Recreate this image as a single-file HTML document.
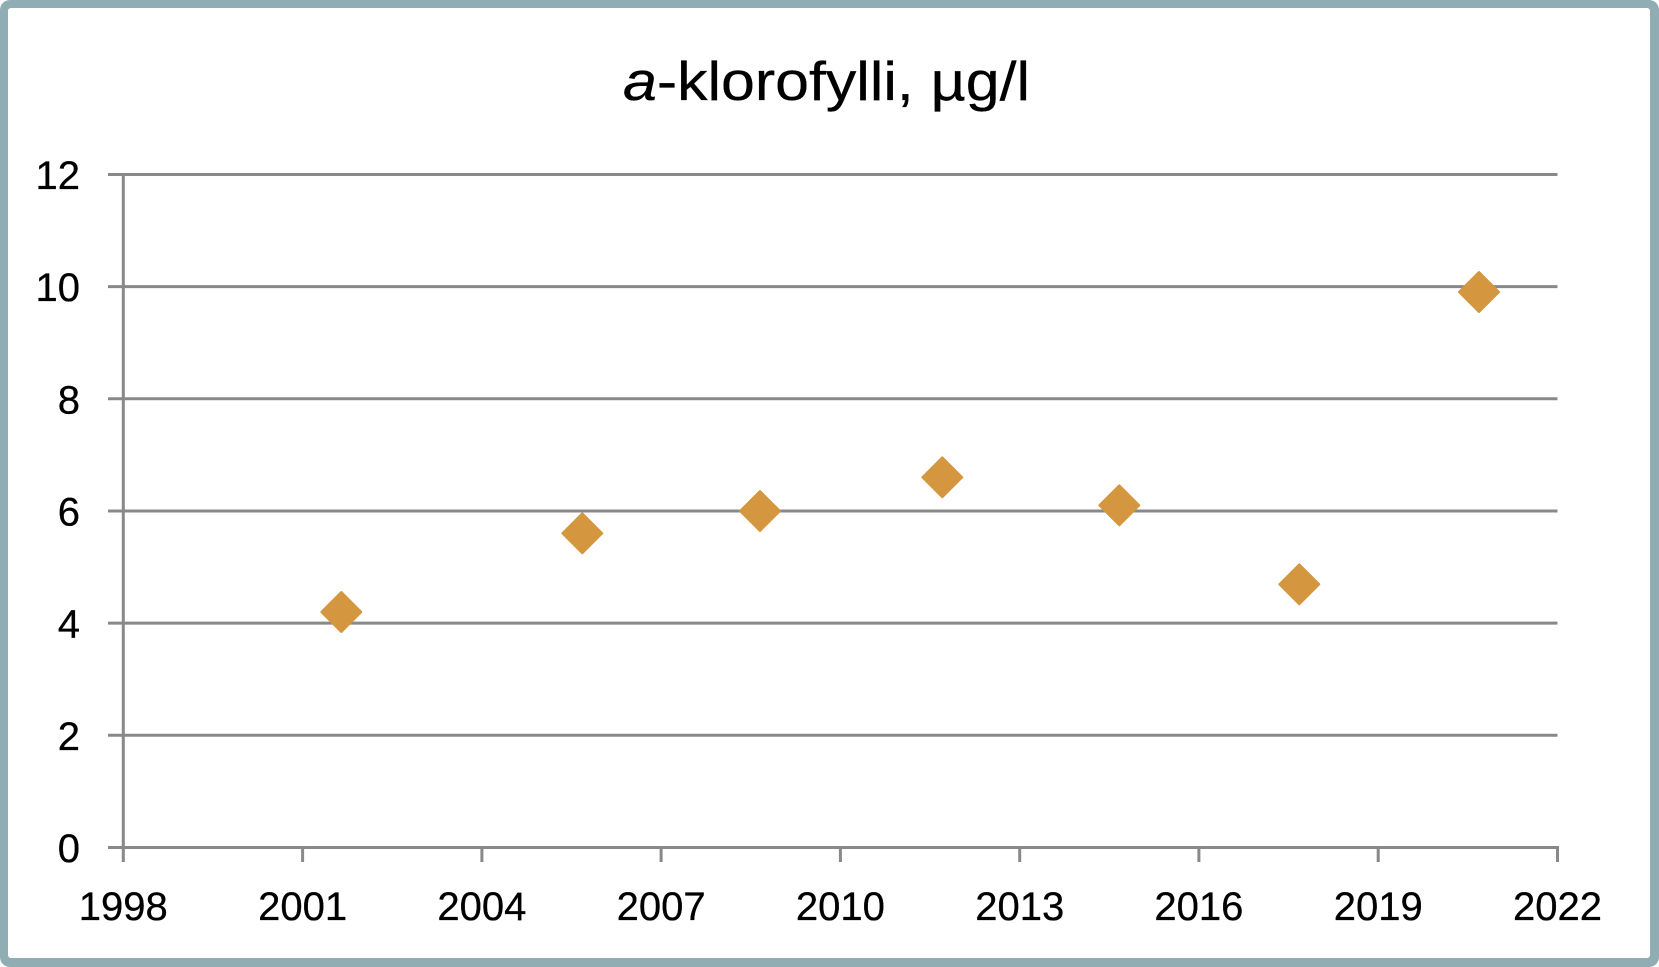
<!DOCTYPE html>
<html>
<head>
<meta charset="utf-8">
<style>
  html,body{margin:0;padding:0;background:#fff;}
  svg{display:block;}
  text{font-family:"Liberation Sans",Arial,sans-serif;fill:#000;}
</style>
</head>
<body>
<svg width="1659" height="967" viewBox="0 0 1659 967" xmlns="http://www.w3.org/2000/svg">
  <rect x="0" y="0" width="1659" height="967" fill="#ffffff"/>
  <rect x="0" y="0" width="1659" height="967" rx="10" ry="10" fill="#8fadb3"/>
  <rect x="8" y="8" width="1642" height="950" rx="3" ry="3" fill="#ffffff"/>

  <!-- title -->
  <text x="826.5" y="100" font-size="55" text-anchor="middle" textLength="407" lengthAdjust="spacingAndGlyphs" stroke="#000" stroke-width="0.3"><tspan font-style="italic">a</tspan>-klorofylli, µg/l</text>

  <!-- gridlines -->
  <g stroke="#898989" stroke-width="3" fill="none">
    <line x1="108" y1="174.5" x2="1557.5" y2="174.5"/>
    <line x1="108" y1="286.6" x2="1557.5" y2="286.6"/>
    <line x1="108" y1="398.8" x2="1557.5" y2="398.8"/>
    <line x1="108" y1="511" x2="1557.5" y2="511"/>
    <line x1="108" y1="623.1" x2="1557.5" y2="623.1"/>
    <line x1="108" y1="735.3" x2="1557.5" y2="735.3"/>
    <line x1="108" y1="847.5" x2="1557.5" y2="847.5"/>
    <!-- y axis -->
    <line x1="123.3" y1="173" x2="123.3" y2="862"/>
    <!-- x ticks -->
    <line x1="302.6" y1="847" x2="302.6" y2="862"/>
    <line x1="481.9" y1="847" x2="481.9" y2="862"/>
    <line x1="661.1" y1="847" x2="661.1" y2="862"/>
    <line x1="840.4" y1="847" x2="840.4" y2="862"/>
    <line x1="1019.7" y1="847" x2="1019.7" y2="862"/>
    <line x1="1198.9" y1="847" x2="1198.9" y2="862"/>
    <line x1="1378.2" y1="847" x2="1378.2" y2="862"/>
    <line x1="1557.5" y1="846" x2="1557.5" y2="862"/>
  </g>

  <!-- y labels -->
  <g font-size="40" text-anchor="end" stroke="#000" stroke-width="0.3">
    <text x="80" y="189">12</text>
    <text x="80" y="301.1">10</text>
    <text x="80" y="413.3">8</text>
    <text x="80" y="525.5">6</text>
    <text x="80" y="637.6">4</text>
    <text x="80" y="749.8">2</text>
    <text x="80" y="862">0</text>
  </g>

  <!-- x labels -->
  <g font-size="40" text-anchor="middle" stroke="#000" stroke-width="0.3">
    <text x="123.3" y="920">1998</text>
    <text x="302.6" y="920">2001</text>
    <text x="481.9" y="920">2004</text>
    <text x="661.1" y="920">2007</text>
    <text x="840.4" y="920">2010</text>
    <text x="1019.7" y="920">2013</text>
    <text x="1198.9" y="920">2016</text>
    <text x="1378.2" y="920">2019</text>
    <text x="1557.5" y="920">2022</text>
  </g>

  <!-- markers -->
  <g fill="#d4963e" stroke="#d4963e" stroke-width="2" stroke-linejoin="round">
    <polygon points="341.3,592 361.3,612 341.3,632 321.3,612"/>
    <polygon points="582.3,513.3 602.3,533.3 582.3,553.3 562.3,533.3"/>
    <polygon points="760,491 780,511 760,531 740,511"/>
    <polygon points="942.3,457.3 962.3,477.3 942.3,497.3 922.3,477.3"/>
    <polygon points="1119.3,485.3 1139.3,505.3 1119.3,525.3 1099.3,505.3"/>
    <polygon points="1299.3,564.3 1319.3,584.3 1299.3,604.3 1279.3,584.3"/>
    <polygon points="1479,272 1499,292 1479,312 1459,292"/>
  </g>
</svg>
</body>
</html>
